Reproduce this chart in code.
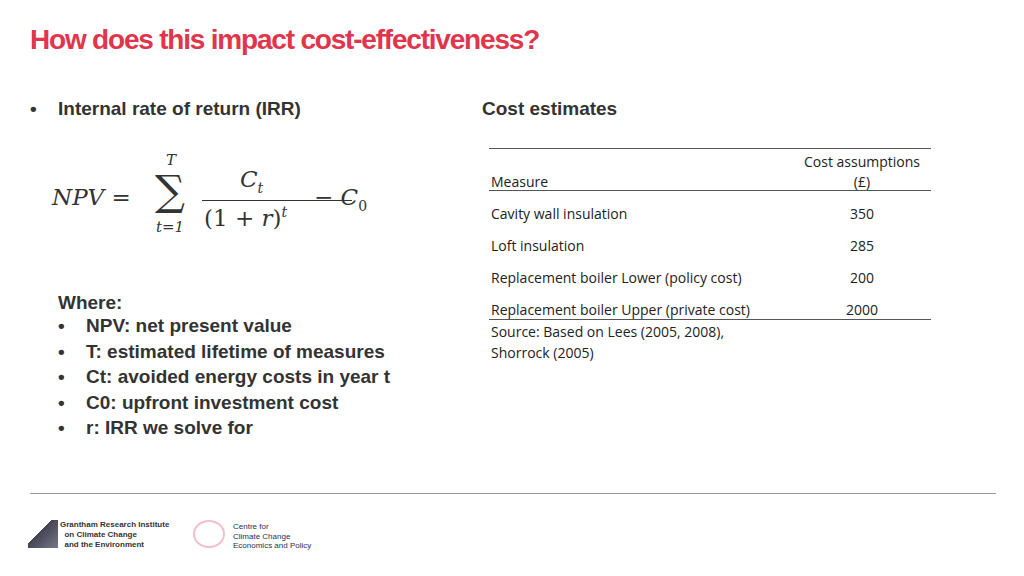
<!DOCTYPE html>
<html><head><meta charset="utf-8">
<script src="https://cdn.jsdelivr.net/npm/chart.js@4.4.0/dist/chart.umd.min.js"></script>
<style>
body{margin:0;width:1024px;height:576px;background:#fff;font-family:"Liberation Sans",Arial,sans-serif;position:relative;overflow:hidden}
.a{position:absolute}
h1{position:absolute;left:30px;top:24px;margin:0;font-size:28px;color:#e0354a;font-weight:bold;letter-spacing:-1.2px}
.b{font-weight:bold;color:#333;font-size:19px}
.t{font-family:"Open Sans",sans-serif;font-size:14px;color:#222}
.m{position:absolute;white-space:nowrap}
</style></head><body>
<h1>How does this impact cost-effectiveness?</h1>
<div class="a b" style="left:30px;top:98px">•</div>
<div class="a b" style="left:58px;top:98px">Internal rate of return (IRR)</div>
<div class="a b" style="left:482px;top:98px">Cost estimates</div>
<div class="a" style="left:52px;top:160px;font-family:'DejaVu Serif',serif;font-size:23px;color:#333;font-style:italic">
<span class="m" style="top:24px">NPV =</span>
<span class="m" style="left:103px;top:10px;font-size:42px;font-style:normal;line-height:42px">∑</span>
<span class="m" style="left:114px;top:-9px;font-size:15px">T</span>
<span class="m" style="left:104px;top:58px;font-size:15px">t=1</span>
<span class="m" style="left:188px;top:6px">C<sub style="font-size:14px">t</sub></span>
<span class="m" style="left:150px;top:40px;width:150px;border-top:1.5px solid #333"></span>
<span class="m" style="left:152px;top:44px;font-style:normal">(1 + <i>r</i>)<sup style="font-size:14px"><i>t</i></sup></span>
<span class="m" style="left:262px;top:24px"><span style="font-style:normal">−</span> C<sub style="font-size:14px;font-style:normal">0</sub></span>
</div>
<div class="a b" style="left:58px;top:290px;line-height:25.5px">Where:</div>
<div id="bl"></div>
<div class="a" style="left:489px;top:148px;width:442px;border-top:1px solid #555"></div>
<div class="a t" style="left:491px;top:172px">Measure</div>
<div class="a t" style="left:791px;top:152px;width:142px;text-align:center;line-height:20px">Cost assumptions<br>(£)</div>
<div class="a" style="left:489px;top:190px;width:442px;border-top:1px solid #555"></div>
<div id="rows"></div>
<div class="a" style="left:489px;top:319px;width:442px;border-top:1px solid #555"></div>
<div class="a t" style="left:491px;top:321px;line-height:21px">Source: Based on Lees (2005, 2008),<br>Shorrock (2005)</div>
<div class="a" style="left:30px;top:493px;width:966px;border-top:1px solid #999"></div>
<div class="a" style="left:28px;top:520px;width:30px;height:28px;background:linear-gradient(135deg,#fff 40%,#445 41%,#778)"></div>
<div class="a" style="left:60px;top:520px;font-size:8px;font-weight:bold;color:#333;line-height:10px">Grantham Research Institute<br>&nbsp;&nbsp;on Climate Change<br>&nbsp;&nbsp;and the Environment</div>
<div class="a" style="left:193px;top:520px;width:32px;height:28px;border-radius:50%;border:2px solid #f3c0c8;box-sizing:border-box"></div>
<div class="a" style="left:233px;top:522px;font-size:8px;color:#235;line-height:9.5px">Centre for<br>Climate Change<br>Economics and Policy</div>
<script>
const measures=["Cavity wall insulation","Loft insulation","Replacement boiler Lower (policy cost)","Replacement boiler Upper (private cost)"];
const costs=[350,285,200,2000];
const bullets=["NPV: net present value","T: estimated lifetime of measures","Ct: avoided energy costs in year t","C0: upfront investment cost","r: IRR we solve for"];
let h="";
measures.forEach((m,i)=>{const y=204+i*32;
h+=`<div class="a t" style="left:491px;top:${y}px">${m}</div><div class="a t" style="left:812px;top:${y}px;width:100px;text-align:center">${costs[i]}</div>`;});
document.getElementById('rows').innerHTML=h;
let b="";
bullets.forEach((s,i)=>{const y=315+i*25.5;
b+=`<div class="a b" style="left:58px;top:${y}px">•</div><div class="a b" style="left:86px;top:${y}px;white-space:nowrap">${s}</div>`;});
document.getElementById('bl').innerHTML=b;
</script>
</body></html>
